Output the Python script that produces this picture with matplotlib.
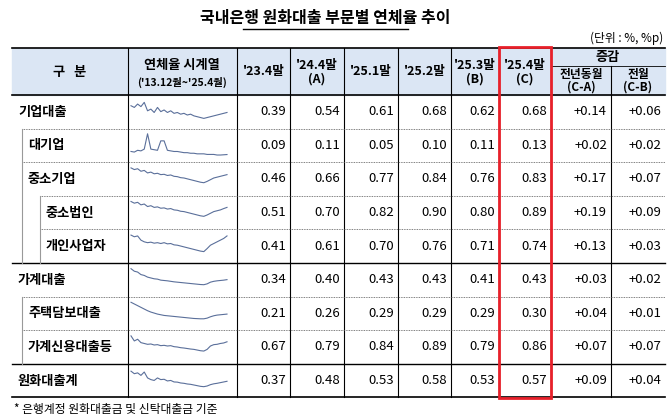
import matplotlib
matplotlib.use("Agg")
import matplotlib.pyplot as plt
from matplotlib.patches import Rectangle

plt.rcParams["font.family"] = ["Noto Sans CJK JP", "Noto Sans CJK KR", "Noto Sans CJK SC", "DejaVu Sans"]

rows = ["기업대출", "대기업", "중소기업", "중소법인", "개인사업자", "가계대출", "주택담보대출", "가계신용대출등", "원화대출계"]
indent = [0, 1, 1, 2, 2, 0, 1, 1, 0]
col_labels = ["'23.4말", "'24.4말\n(A)", "'25.1말", "'25.2말", "'25.3말\n(B)", "'25.4말\n(C)"]
v234 = [0.39, 0.09, 0.46, 0.51, 0.41, 0.34, 0.21, 0.67, 0.37]
v244 = [0.54, 0.11, 0.66, 0.70, 0.61, 0.40, 0.26, 0.79, 0.48]
v251 = [0.61, 0.05, 0.77, 0.82, 0.70, 0.43, 0.29, 0.84, 0.53]
v252 = [0.68, 0.10, 0.84, 0.90, 0.76, 0.43, 0.29, 0.89, 0.58]
v253 = [0.62, 0.11, 0.76, 0.80, 0.71, 0.41, 0.29, 0.79, 0.53]
v254 = [0.68, 0.13, 0.83, 0.89, 0.74, 0.43, 0.30, 0.86, 0.57]
dyoy = ["+0.14", "+0.02", "+0.17", "+0.19", "+0.13", "+0.03", "+0.04", "+0.07", "+0.09"]
dmom = ["+0.06", "+0.02", "+0.07", "+0.09", "+0.03", "+0.02", "+0.01", "+0.07", "+0.04"]

spark = [
    [1.0, 0.9, 1.1, 0.95, 1.2, 0.7, 0.8, 0.6, 0.9, 0.65, 0.75, 0.6, 0.7, 0.55, 0.6, 0.5, 0.55, 0.45, 0.5, 0.4, 0.35, 0.3, 0.25, 0.3, 0.35, 0.4, 0.45, 0.5, 0.55, 0.6],
    [0.4, 0.35, 0.5, 0.45, 0.6, 1.9, 0.6, 0.55, 0.5, 1.3, 1.3, 0.5, 0.45, 0.4, 0.4, 0.35, 0.3, 0.3, 0.25, 0.25, 0.2, 0.2, 0.2, 0.15, 0.15, 0.15, 0.1, 0.1, 0.12, 0.14],
    [1.3, 1.2, 1.25, 1.1, 1.15, 1.0, 1.05, 0.95, 0.98, 0.9, 0.92, 0.85, 0.88, 0.8, 0.78, 0.72, 0.7, 0.65, 0.6, 0.55, 0.5, 0.45, 0.42, 0.5, 0.6, 0.7, 0.75, 0.8, 0.85, 0.9],
    [1.3, 1.2, 1.25, 1.1, 1.15, 1.0, 1.05, 0.95, 0.98, 0.9, 0.92, 0.85, 0.88, 0.8, 0.78, 0.72, 0.7, 0.65, 0.6, 0.55, 0.5, 0.45, 0.42, 0.5, 0.6, 0.7, 0.75, 0.8, 0.88, 0.95],
    [1.3, 1.2, 1.25, 1.0, 0.9, 0.85, 0.88, 0.82, 0.85, 0.8, 0.85, 0.78, 0.8, 0.72, 0.7, 0.65, 0.6, 0.55, 0.5, 0.45, 0.4, 0.35, 0.32, 0.5, 0.7, 0.8, 0.9, 1.0, 1.1, 1.25],
    [1.3, 1.15, 1.1, 0.95, 0.9, 0.8, 0.75, 0.7, 0.68, 0.62, 0.6, 0.58, 0.55, 0.52, 0.5, 0.48, 0.46, 0.44, 0.42, 0.4, 0.38, 0.36, 0.35, 0.4, 0.5, 0.55, 0.58, 0.6, 0.62, 0.65],
    [1.3, 1.2, 1.1, 1.0, 0.9, 0.8, 0.72, 0.66, 0.6, 0.56, 0.52, 0.5, 0.48, 0.46, 0.44, 0.42, 0.4, 0.38, 0.36, 0.34, 0.33, 0.32, 0.32, 0.36, 0.44, 0.5, 0.54, 0.56, 0.58, 0.6],
    [1.3, 1.0, 1.1, 0.9, 0.85, 0.8, 0.82, 0.76, 0.78, 0.72, 0.74, 0.7, 0.72, 0.66, 0.64, 0.6, 0.58, 0.55, 0.52, 0.5, 0.46, 0.42, 0.4, 0.5, 0.7, 0.78, 0.8, 0.85, 0.88, 0.95],
    [1.2, 1.05, 1.1, 0.95, 1.15, 0.8, 0.7, 0.65, 0.8, 0.7, 0.72, 0.62, 0.65, 0.56, 0.55, 0.5, 0.48, 0.44, 0.42, 0.38, 0.34, 0.3, 0.28, 0.32, 0.4, 0.45, 0.48, 0.52, 0.56, 0.6],
]

W, H = 670, 420
fig = plt.figure(figsize=(6.7, 4.2), dpi=100)
ax = fig.add_axes([0, 0, 1, 1])
ax.set_xlim(0, W); ax.set_ylim(H, 0); ax.axis("off")

xs = [12, 128, 237, 290, 344, 398, 451, 499, 551, 611, 665]
top, hb = 48, 95
rh = 33.6
rb = [hb + i * rh for i in range(10)]

ax.text(325, 18, "국내은행 원화대출 부문별 연체율 추이", ha="center", va="center", fontsize=11.5, fontweight="bold")
ax.plot([243, 408], [29, 29], color="black", lw=1)
ax.text(663, 38, "(단위 : %, %p)", ha="right", va="center", fontsize=8.5)

ax.add_patch(Rectangle((xs[0], top), xs[-1] - xs[0], hb - top, color="#dbe6f4", zorder=0))
ax.plot([xs[0], xs[-1]], [top, top], color="black", lw=1.2)
ax.plot([xs[0], xs[-1]], [hb, hb], color="black", lw=1.2)
ax.plot([xs[0], xs[-1]], [rb[-1], rb[-1]], color="black", lw=1.2)
for x in xs[1:-1]:
    y0 = top if x != xs[9] else 66
    ax.plot([x, x], [y0, rb[-1]], color="black", lw=0.8)
ax.plot([xs[8], xs[-1]], [66, 66], color="black", lw=0.6)

ax.text(70, 72, "구   분", ha="center", va="center", fontsize=9.5, fontweight="bold")
ax.text(182, 65, "연체율 시계열", ha="center", va="center", fontsize=9.5, fontweight="bold")
ax.text(182, 82, "('13.12월~'25.4월)", ha="center", va="center", fontsize=7.5, fontweight="bold")
for i, lab in enumerate(col_labels):
    cx = (xs[2 + i] + xs[3 + i]) / 2
    ax.text(cx, 72, lab, ha="center", va="center", fontsize=9, fontweight="bold", linespacing=1.1)
ax.text(608, 57, "증감", ha="center", va="center", fontsize=9.5, fontweight="bold")
ax.text(581, 81, "전년동월\n(C-A)", ha="center", va="center", fontsize=8.5, fontweight="bold", linespacing=1.0)
ax.text(638, 81, "전월\n(C-B)", ha="center", va="center", fontsize=8.5, fontweight="bold", linespacing=1.0)

ind_x = [14, 24, 42]
for i, name in enumerate(rows):
    yc = (rb[i] + rb[i + 1]) / 2
    ax.text(ind_x[indent[i]] + 4, yc, name, ha="left", va="center", fontsize=9.5, fontweight="bold")
    vals = [v234[i], v244[i], v251[i], v252[i], v253[i], v254[i]]
    for j, v in enumerate(vals):
        ax.text(xs[3 + j] - 4, yc, f"{v:.2f}", ha="right", va="center", fontsize=9.5)
    ax.text(xs[9] - 4, yc, dyoy[i], ha="right", va="center", fontsize=9.5)
    ax.text(xs[10] - 4, yc, dmom[i], ha="right", va="center", fontsize=9.5)
    s = spark[i]
    sx0, sx1 = xs[1] + 3, xs[2] - 10
    y0s, y1s = rb[i] + 4, rb[i + 1] - 6
    n = len(s)
    px = [sx0 + (sx1 - sx0) * k / (n - 1) for k in range(n)]
    mx = 2.0 if i == 1 else 1.4
    py = [y1s - (y1s - y0s) * v / mx for v in s]
    ax.plot(px, py, color="#5a6f9a", lw=0.8)

for i in range(1, 9):
    y = rb[i]
    if i in (5, 8):
        ax.plot([xs[0], xs[-1]], [y, y], color="black", lw=1.0)
    else:
        x0 = ind_x[indent[i]] - 2 if indent[i] else xs[0]
        ax.plot([x0, xs[-1]], [y, y], color="#555555", lw=0.6, ls=(0, (1, 1)))
ax.plot([22, 22], [rb[1], rb[5]], color="#999999", lw=0.8)
ax.plot([40, 40], [rb[3], rb[5]], color="#999999", lw=0.8)
ax.plot([22, 22], [rb[6], rb[8]], color="#999999", lw=0.8)

ax.add_patch(Rectangle((xs[7], top - 1), xs[8] - xs[7], rb[-1] - top + 2, fill=False, ec="#e8202a", lw=2, zorder=5))

ax.text(14, 409, "* 은행계정 원화대출금 및 신탁대출금 기준", ha="left", va="center", fontsize=8.5)

fig.savefig("out.png", dpi=100)
